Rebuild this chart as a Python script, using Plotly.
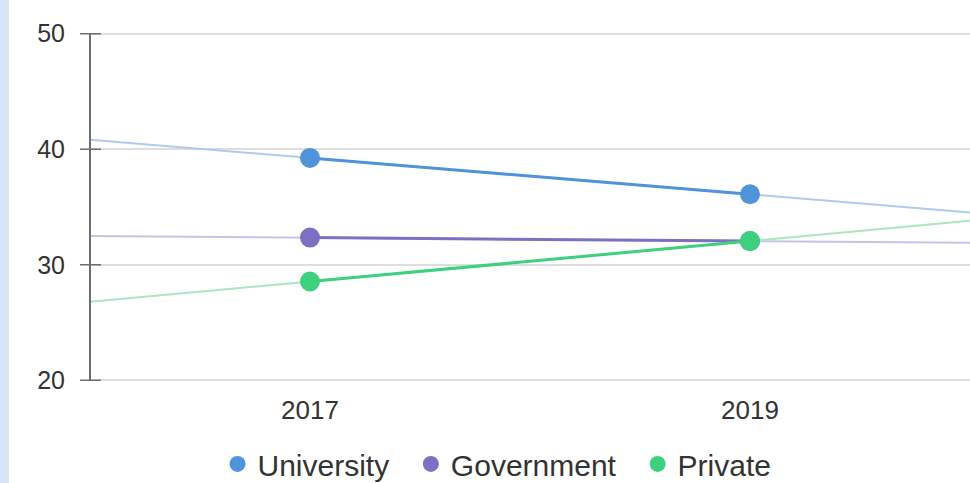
import numpy as np
import plotly.graph_objects as go

years = [2017, 2019]
series_names = ["University", "Government", "Private"]
university = [39.25, 36.1]
government = [32.35, 32.05]
private = [28.55, 32.05]
values = [university, government, private]
colors = ["#4f93d8", "#7e6ec4", "#3dd17f"]
trend_colors = ["#aecbea", "#c9c2e8", "#a8e6c2"]
y_ticks = [20, 30, 40, 50]
x_range = [2016, 2020]
y_range = [19.85, 50.15]

W, H = 970, 483
ML, MR, MT, MB = 90, 0, 32, 101
PW = W - ML - MR
PH = H - MT - MB

fig = go.Figure()

# trend lines (linear fit of each series, extended over the axis range)
for name, vals, tc in zip(series_names, values, trend_colors):
    k, b = np.polyfit(years, vals, 1)
    tx = np.array(x_range, dtype=float)
    fig.add_trace(go.Scatter(x=tx, y=k * tx + b, mode="lines",
                             line=dict(color=tc, width=2), showlegend=False,
                             hoverinfo="skip"))

for name, vals, c in zip(series_names, values, colors):
    fig.add_trace(go.Scatter(x=years, y=vals, mode="lines",
                             line=dict(color=c, width=3), showlegend=False))
pad = "\u00a0\u00a0"
for i, (name, vals, c) in enumerate(zip(series_names, values, colors)):
    label = name + (pad if i < len(series_names) - 1 else "")
    fig.add_trace(go.Scatter(x=years, y=vals, mode="markers", name=label,
                             marker=dict(color=c, size=20)))

# tick marks crossing the y axis line
tick_shapes = [dict(type="line", xref="paper", yref="y",
                    x0=-10 / PW, x1=11 / PW, y0=t, y1=t,
                    line=dict(color="#6e6e6e", width=1.5), layer="above")
               for t in y_ticks]

font = "Liberation Sans, Arial, sans-serif"
fig.update_layout(
    width=W, height=H,
    margin=dict(l=ML, r=MR, t=MT, b=MB, autoexpand=False),
    paper_bgcolor="white", plot_bgcolor="white",
    font=dict(family=font, color="#333333"),
    xaxis=dict(range=x_range, tickvals=years, ticktext=[str(y) for y in years],
               showgrid=False, zeroline=False, showline=False, ticks="",
               tickfont=dict(size=26, color="#333333"), ticklabelstandoff=10),
    yaxis=dict(range=y_range, tickvals=y_ticks, showgrid=True,
               gridcolor="#dedede", gridwidth=1.5, zeroline=False,
               showline=False, ticks="",
               tickfont=dict(size=25, color="#333333"), ticklabelstandoff=24),
    legend=dict(orientation="h", x=0.4625, xanchor="center", y=-0.234,
                yanchor="middle", font=dict(size=30, color="#333333"),
                itemclick=False, bgcolor="rgba(0,0,0,0)"),
    shapes=[dict(type="rect", xref="paper", yref="paper",
                 x0=-ML / PW, x1=(9 - ML) / PW,
                 y0=-MB / PH, y1=1 + MT / PH,
                 fillcolor="#d6e6f5", line=dict(width=0), layer="below"),
            dict(type="line", xref="paper", yref="y", x0=0, x1=0,
                 y0=y_ticks[0], y1=y_ticks[-1],
                 line=dict(color="#6e6e6e", width=2), layer="above")]
           + tick_shapes,
    showlegend=True,
)

fig.write_html("out.html")
